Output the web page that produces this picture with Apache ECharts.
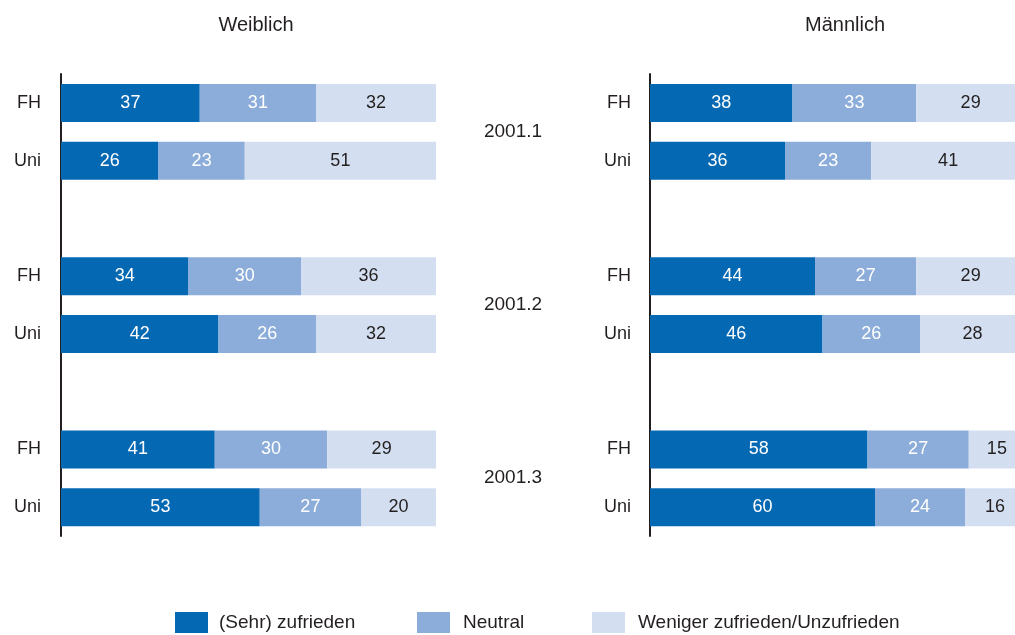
<!DOCTYPE html>
<html><head><meta charset="utf-8">
<script src="https://cdn.jsdelivr.net/npm/echarts@6/dist/echarts.min.js"></script>
<style>html,body{margin:0;padding:0;background:#fff}#c{width:1015px;height:635px}</style>
</head><body><div id="c"></div>
<script>
const FONT = '"Liberation Sans", Arial, sans-serif';
const TEXT = '#231f20';
const panels = ['Weiblich', 'Männlich'];
const groups = ['2001.1', '2001.2', '2001.3'];
const types = ['FH', 'Uni'];
const seriesNames = ['(Sehr) zufrieden', 'Neutral', 'Weniger zufrieden/Unzufrieden'];
const colors = ['#0568b3', '#8cadd9', '#d3dff0'];
const labelColors = ['#ffffff', '#ffffff', TEXT];

// order: 2001.1 FH, 2001.1 Uni, 2001.2 FH, 2001.2 Uni, 2001.3 FH, 2001.3 Uni
const weiblichZufrieden = [37, 26, 34, 42, 41, 53];
const weiblichNeutral   = [31, 23, 30, 26, 30, 27];
const weiblichWeniger   = [32, 51, 36, 32, 29, 20];
const maennlichZufrieden = [38, 36, 44, 46, 58, 60];
const maennlichNeutral   = [33, 23, 27, 26, 27, 24];
const maennlichWeniger   = [29, 41, 29, 28, 15, 16];

const panelData = [
  [weiblichZufrieden, weiblichNeutral, weiblichWeniger],
  [maennlichZufrieden, maennlichNeutral, maennlichWeniger]
];

// categories with empty spacer slot between groups
const categories = [];
groups.forEach((g, gi) => {
  types.forEach(t => categories.push(g + '|' + t));
  if (gi < groups.length - 1) categories.push(g + '|');
});
function toSlots(arr) {
  const out = [];
  let k = 0;
  categories.forEach(c => {
    if (c.endsWith('|')) out.push('-'); else out.push(arr[k++]);
  });
  return out;
}

const chart = echarts.init(document.getElementById('c'), null, {renderer: 'canvas'});
const gridLefts = [61, 650];
const grids = gridLefts.map(l => ({left: l, top: 74, width: 375, height: 462, containLabel: false, outerBoundsMode: 'none'}));
const xAxes = gridLefts.map((l, i) => ({type: 'value', gridIndex: i, min: 0, max: 100, show: false}));
const yAxes = gridLefts.map((l, i) => ({
  type: 'category', gridIndex: i, inverse: true, data: categories,
  axisLine: {show: true, lineStyle: {color: TEXT, width: 2}},
  axisTick: {show: false}, splitLine: {show: false},
  axisLabel: {margin: i === 0 ? 20 : 19, fontSize: 18, color: TEXT, fontFamily: FONT,
    formatter: v => v.split('|')[1]}
}));
const series = [];
panelData.forEach((pd, pi) => {
  pd.forEach((arr, si) => {
    series.push({
      type: 'bar', name: seriesNames[si], stack: 'p' + pi,
      xAxisIndex: pi, yAxisIndex: pi, barWidth: 38,
      itemStyle: {color: colors[si]},
      label: {show: true, position: 'inside', color: labelColors[si], fontSize: 18, fontFamily: FONT},
      emphasis: {disabled: true},
      data: toSlots(arr)
    });
  });
});
const legendLefts = [175, 417, 592];
const legendGaps = [6, 8, 8];
const legends = seriesNames.map((n, i) => ({
  data: [{name: n, icon: 'rect'}], left: legendLefts[i], top: 612, padding: 0,
  itemWidth: 33, itemHeight: 21, selectedMode: false,
  textStyle: {fontSize: 19, color: TEXT, fontFamily: FONT, padding: [0, 0, 0, legendGaps[i]]}
}));
chart.setOption({
  animation: false,
  color: colors,
  grid: grids, xAxis: xAxes, yAxis: yAxes, legend: legends, series: series
});
const graphics = [];
const titleX = [256, 845];
panels.forEach((p, i) => graphics.push({
  type: 'text', x: titleX[i], y: 25,
  style: {text: p, fontSize: 20, fill: TEXT, fontFamily: FONT, align: 'center', verticalAlign: 'middle'}
}));
groups.forEach(g => {
  const y1 = chart.convertToPixel({yAxisIndex: 0}, g + '|FH');
  const y2 = chart.convertToPixel({yAxisIndex: 0}, g + '|Uni');
  graphics.push({
    type: 'text', x: 513, y: (y1 + y2) / 2,
    style: {text: g, fontSize: 19, fill: TEXT, fontFamily: FONT, align: 'center', verticalAlign: 'middle'}
  });
});
chart.setOption({graphic: graphics});
</script></body></html>
